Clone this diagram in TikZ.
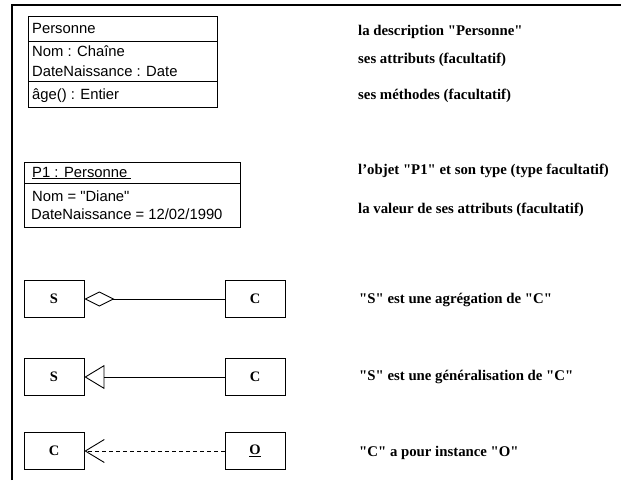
\documentclass[tikz,border=0pt]{standalone}
\usepackage{fontspec}
\setmainfont{Liberation Serif}
\newfontfamily\timesf{Liberation Serif}
\newfontfamily\arialf{Liberation Sans}
\usetikzlibrary{arrows.meta}
\tikzset{
  umlbox/.style={draw, line width=0.9pt, inner sep=0pt, anchor=north west},
  sansline/.style={anchor=base west, inner sep=0pt, font=\arialf\fontsize{14.8}{16}\selectfont},
  note/.style={anchor=base west, inner sep=0pt, font=\timesf\bfseries\fontsize{14.8}{16}\selectfont},
  letterbox/.style={draw, line width=0.9pt, minimum width=60pt, minimum height=37pt, inner sep=0pt, font=\timesf\bfseries\fontsize{14.5}{16}\selectfont},
  rel/.style={line width=0.9pt},
}
\begin{document}
\begin{tikzpicture}[x=1pt,y=-1pt]
\useasboundingbox (0,0) rectangle (621,480);
% frame
\draw[line width=2pt] (12,480) -- (12,5) -- (621,5);
% class Personne
\node[umlbox, minimum width=189pt, minimum height=91pt] (cls) at (28,16) {};
\draw[line width=0.9pt] (28,41) -- (217,41);
\draw[line width=0.9pt] (28,81) -- (217,81);
\node[sansline] (clsname) at (32,33) {Personne};
\node[sansline] (attr1) at (32,56) {Nom : Chaîne};
\node[sansline] (attr2) at (32,76) {DateNaissance : Date};
\node[sansline] (meth) at (32,99) {âge() : Entier};
% object P1
\node[umlbox, minimum width=216pt, minimum height=65pt] (obj) at (24,162) {};
\draw[line width=0.9pt] (24,183) -- (240,183);
\node[sansline] (objname) at (32,177) {\underline{P1 : Personne\ }};
\node[sansline] (val1) at (32,201) {Nom = "Diane"};
\node[sansline] (val2) at (31,219) {DateNaissance = 12/02/1990};
% relation boxes
\node[letterbox] (s1) at (54,299) {S};
\node[letterbox] (c1) at (255,299) {C};
\node[letterbox] (s2) at (54,377) {S};
\node[letterbox] (c2) at (255,377) {C};
\node[letterbox] (c3) at (54,451) {C};
\node[letterbox] (o3) at (255,451) {\underline{O}};
\draw[rel, -{Diamond[open, length=30pt, width=15pt, line width=0.9pt]}] (c1) -- (s1);
\draw[rel, -{Triangle[open, length=20pt, width=24pt, line width=0.9pt]}] (c2) -- (s2);
\draw[rel, dashed, dash pattern=on 4pt off 3pt, -{Straight Barb[length=19pt, width=23pt, line width=0.9pt]}] (o3) -- (c3);
% notes
\node[note] (n1) at (358,35) {la description "Personne"};
\node[note] (n2) at (358,63) {ses attributs (facultatif)};
\node[note] (n3) at (358,99) {ses méthodes (facultatif)};
\node[note] (n4) at (358,174) {l’objet "P1" et son type (type facultatif)};
\node[note] (n5) at (358,213) {la valeur de ses attributs (facultatif)};
\node[note] (n6) at (359,303) {"S" est une agrégation de "C"};
\node[note] (n7) at (359,380) {"S" est une généralisation de "C"};
\node[note] (n8) at (359,456) {"C" a pour instance "O"};
\end{tikzpicture}
\end{document}
